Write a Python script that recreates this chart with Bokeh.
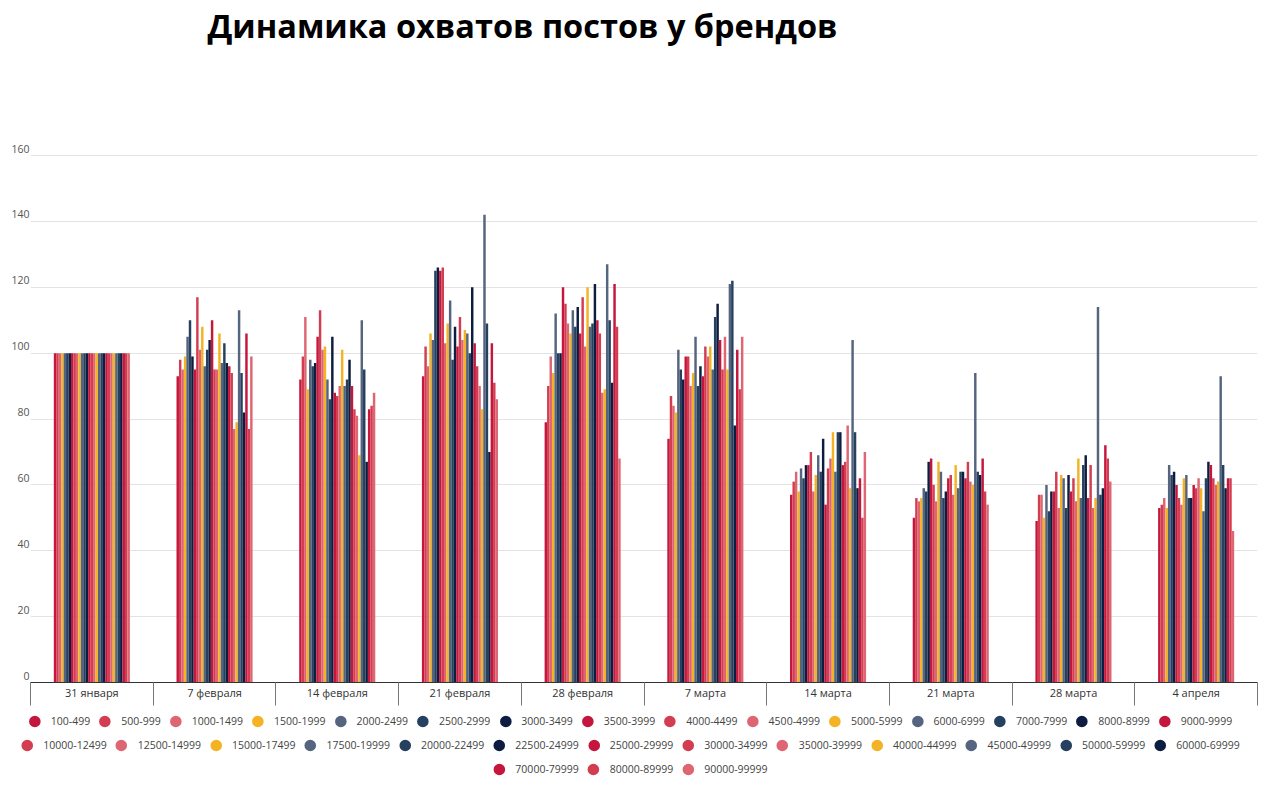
from bokeh.plotting import figure
from bokeh.layouts import column, row
from bokeh.models import (ColumnDataSource, FactorRange, Range1d, LinearAxis,
                          FixedTicker, Legend, LegendItem)
from bokeh.transform import dodge
from bokeh.embed import file_html
from bokeh.resources import INLINE

dates = ["31 января", "7 февраля", "14 февраля", "21 февраля", "28 февраля",
         "7 марта", "14 марта", "21 марта", "28 марта", "4 апреля"]

series = ["100-499", "500-999", "1000-1499", "1500-1999", "2000-2499", "2500-2999",
          "3000-3499", "3500-3999", "4000-4499", "4500-4999", "5000-5999", "6000-6999",
          "7000-7999", "8000-8999", "9000-9999", "10000-12499", "12500-14999",
          "15000-17499", "17500-19999", "20000-22499", "22500-24999", "25000-29999",
          "30000-34999", "35000-39999", "40000-44999", "45000-49999", "50000-59999",
          "60000-69999", "70000-79999", "80000-89999", "90000-99999"]

# values for every series (in the order above) at each date
v_31jan = [100, 100, 100, 100, 100, 100, 100, 100, 100, 100, 100, 100, 100, 100, 100, 100,
           100, 100, 100, 100, 100, 100, 100, 100, 100, 100, 100, 100, 100, 100, 100]
v_07feb = [93, 98, 95, 99, 105, 110, 99, 95, 117, 101, 108, 96, 101, 104, 110, 95,
           95, 106, 97, 103, 97, 96, 94, 77, 79, 113, 94, 82, 106, 77, 99]
v_14feb = [92, 99, 111, 89, 98, 96, 97, 105, 113, 101, 102, 92, 86, 105, 88, 87,
           90, 101, 90, 92, 98, 90, 83, 81, 69, 110, 95, 67, 83, 84, 88]
v_21feb = [93, 102, 96, 106, 104, 125, 126, 125, 126, 103, 109, 116, 98, 108, 102, 111,
           104, 107, 106, 100, 120, 103, 96, 90, 83, 142, 109, 70, 103, 91, 86]
v_28feb = [79, 90, 99, 94, 112, 100, 100, 120, 115, 109, 106, 113, 108, 114, 106, 117,
           102, 120, 108, 109, 121, 110, 106, 88, 89, 127, 110, 91, 121, 108, 68]
v_07mar = [74, 87, 84, 82, 101, 95, 92, 99, 99, 90, 94, 105, 90, 96, 93, 102,
           99, 102, 95, 111, 115, 104, 95, 105, 95, 121, 122, 78, 101, 89, 105]
v_14mar = [57, 61, 64, 58, 65, 62, 66, 66, 70, 58, 63, 69, 64, 74, 54, 65,
           68, 76, 64, 76, 76, 66, 67, 78, 59, 104, 76, 59, 62, 50, 70]
v_21mar = [50, 56, 55, 56, 59, 58, 67, 68, 60, 55, 67, 64, 56, 58, 62, 63,
           57, 66, 59, 64, 64, 62, 67, 61, 60, 94, 64, 63, 68, 58, 54]
v_28mar = [49, 57, 57, 50, 60, 52, 58, 58, 64, 53, 63, 62, 53, 63, 58, 62,
           55, 68, 56, 66, 69, 56, 66, 53, 56, 114, 57, 59, 72, 68, 61]
v_04apr = [53, 54, 56, 53, 66, 63, 64, 60, 56, 54, 62, 63, 56, 56, 60, 59,
           62, 59, 52, 62, 67, 66, 62, 60, 61, 93, 66, 59, 62, 62, 46]

per_date = [v_31jan, v_07feb, v_14feb, v_21feb, v_28feb,
            v_07mar, v_14mar, v_21mar, v_28mar, v_04apr]

y_ticks = [0, 20, 40, 60, 80, 100, 120, 140, 160]

palette = ["#C5163D", "#D33D52", "#DE6673", "#F4B324", "#55647F", "#26405F", "#0C1D3F"]

data = {"date": dates}
for i, s in enumerate(series):
    data[s] = [row_[i] for row_ in per_date]
src = ColumnDataSource(data)

W = 1276
H_MAIN, H_LEG = 709, 72
Y_END = 192.8

p = figure(width=W, height=H_MAIN, x_range=FactorRange(factors=dates),
           y_range=Range1d(0, Y_END), x_axis_location=None,
           output_backend="svg", toolbar_location=None,
           title="Динамика охватов постов у брендов",
           min_border_left=30, min_border_right=19, min_border_top=47,
           min_border_bottom=27)
p.outline_line_color = None
p.background_fill_color = "white"
p.xgrid.visible = False

p.title.align = "left"
p.title.offset = 177
p.title.text_font = "Open Sans"
p.title.text_font_style = "bold"
p.title.text_font_size = "32.5px"
p.title.text_color = "#000000"
p.title.standoff = 0

n = len(series)
bw = 0.62 / n
offsets = [(i - (n - 1) / 2) * bw for i in range(n)]
for i, s in enumerate(series):
    p.vbar(x=dodge("date", offsets[i], range=p.x_range), top=s, width=bw, source=src,
           fill_color=palette[i % 7], line_color=None)

# y axis: labels sit just above their grid lines, as in the original
lift = 2.1
p.yaxis.ticker = FixedTicker(ticks=[t + lift for t in y_ticks])
p.yaxis.major_label_overrides = {t + lift: str(t) for t in y_ticks}
p.yaxis.axis_line_color = None
p.yaxis.major_tick_line_color = None
p.yaxis.minor_tick_line_color = None
p.yaxis.major_tick_out = 0
p.yaxis.major_tick_in = 0
p.yaxis.major_label_standoff = 1
p.yaxis.major_label_text_font = "Open Sans"
p.yaxis.major_label_text_font_size = "10.5px"
p.yaxis.major_label_text_color = "#555555"
p.ygrid.ticker = FixedTicker(ticks=y_ticks)
p.ygrid.grid_line_color = "#E3E3E3"

# x axis on the factor range's synthetic coordinates:
# labels at category centres, ticks at category boundaries
centres = [i + 0.5 for i in range(len(dates))]
bounds = [i for i in range(len(dates) + 1)]
xax = LinearAxis(ticker=FixedTicker(ticks=centres, minor_ticks=bounds),
                 major_label_overrides={c: d for c, d in zip(centres, dates)})
xax.axis_line_color = "#333333"
xax.major_tick_out = 0
xax.major_tick_in = 0
xax.major_tick_line_color = None
xax.minor_tick_out = 0
xax.minor_tick_in = -23
xax.minor_tick_line_color = "#777777"
xax.major_label_standoff = 2
xax.major_label_text_font = "Open Sans"
xax.major_label_text_font_size = "11px"
xax.major_label_text_color = "#333333"
p.add_layout(xax, "below")

# legend figure: three centred rows of circle markers
lf = figure(width=W, height=H_LEG, x_range=p.x_range, y_range=Range1d(0, Y_END),
            x_axis_location=None, y_axis_location=None,
            output_backend="svg", toolbar_location=None,
            min_border_left=0, min_border_right=22, min_border_top=0,
            min_border_bottom=0)
lf.outline_line_color = None
lf.xgrid.visible = False
lf.ygrid.visible = False

markers = []
for i, s in enumerate(series):
    r = lf.scatter(x=dodge("date", offsets[i], range=p.x_range), y=s, source=src,
                   marker="circle", size=10, visible=False,
                   fill_color=palette[i % 7], line_color=palette[i % 7], line_width=2)
    markers.append(r)

rows = [(0, 15, "top_center"), (15, 28, "center"), (28, 31, "bottom_center")]
for a, b, loc in rows:
    leg = Legend(items=[LegendItem(label=series[k], renderers=[markers[k]])
                        for k in range(a, b)],
                 orientation="horizontal", location=loc,
                 glyph_width=25, glyph_height=24, label_height=20,
                 label_standoff=4, spacing=2, padding=0, margin=0,
                 border_line_color=None, background_fill_alpha=0,
                 inactive_fill_alpha=0,
                 label_text_font="Open Sans", label_text_font_size="10.5px",
                 label_text_color="#444444")
    lf.add_layout(leg, "center")

layout = column(p, row(lf), spacing=0)
open("out.html", "w").write(file_html(layout, INLINE))
